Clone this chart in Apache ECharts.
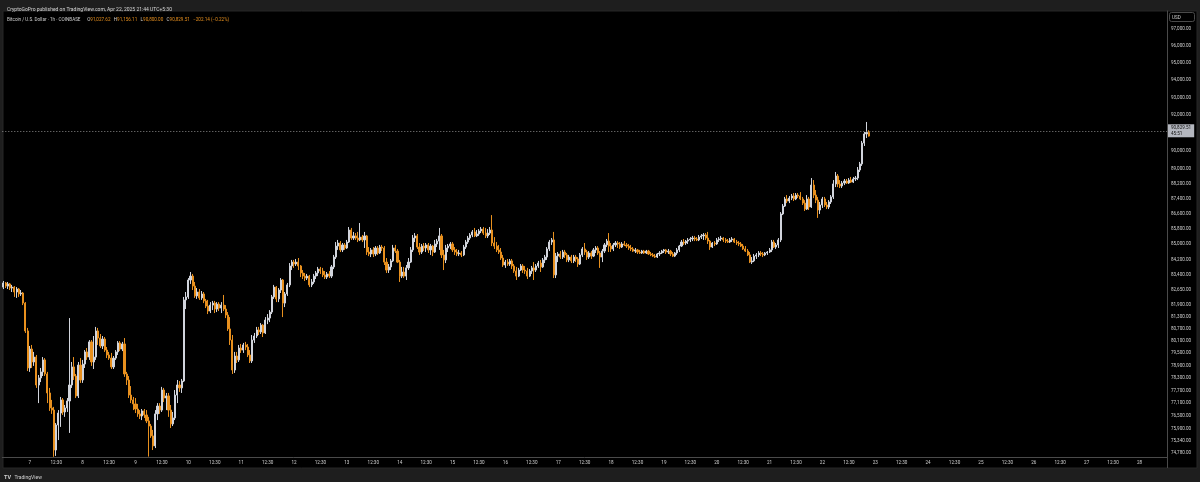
<!DOCTYPE html>
<html>
<head>
<meta charset="utf-8">
<script src="https://cdn.jsdelivr.net/npm/echarts@6/dist/echarts.min.js"></script>
<style>
html,body{margin:0;padding:0;background:#1e1e1e;}
#chart{width:1200px;height:482px;}
</style>
</head>
<body>
<div id="chart"></div>
<script>
// BTC/USD 1h candles, Apr 6 12:30 -> Apr 22 21:30 (UTC+5:30)
const opens = [
82790,83000,82840,82950,82740,82790,82540,82690,82440,82490,81980,80590,78780,79700,79070,79310,77960,78300,78590,79170,
78490,77580,76870,76770,74910,76070,76630,77250,76680,76870,77200,77960,78830,78390,77440,78920,78200,78970,79560,79310,
80050,79070,79310,80590,80240,79850,80190,79650,79410,79260,78830,79260,79560,80000,79700,79950,78490,78200,77480,77250,
77060,76820,76590,76490,76730,76540,76260,76020,75560,75100,76590,76960,76770,77720,77340,77440,76770,76120,76400,77480,
77960,77820,78150,82140,82290,83150,83350,82840,82340,82540,82240,82440,82090,81830,81580,81880,81980,81680,81930,81730,
81880,81680,81380,80690,80140,78680,79360,79170,79750,79650,79900,79800,79410,79120,80140,80340,80640,80540,80880,80490,
81130,81230,81530,82290,82790,82190,82640,83150,81980,82440,82900,83870,84070,83970,84070,83870,83510,83350,83250,83350,
82900,83050,83350,83510,83710,83610,83410,83300,83460,83350,83820,84330,84900,85060,84700,84960,84800,85110,85740,85320,
85430,85320,85220,85370,85220,85430,84590,84490,84700,84490,84800,84540,84850,84800,84070,83660,83820,84130,84800,84640,
84070,83350,83560,83350,83770,84070,84700,85320,85430,84850,84590,84900,84800,84960,84700,84900,84590,85010,85160,85430,
84440,84180,84800,84900,85010,84700,84590,84490,84540,84440,84850,85110,85320,85480,85640,85430,85530,85690,85790,85580,
85430,85580,85740,85060,84900,84700,84590,84280,83920,84070,83970,84130,83870,83610,83350,83660,83870,83660,83610,83350,
83610,83770,83660,83870,84020,83820,84180,84330,84750,85110,85220,83410,84380,84490,84330,84590,84440,84180,84330,84130,
84330,84230,83970,84440,84750,84590,84330,84540,84380,84700,84800,84540,84330,84640,84960,85160,84900,84750,84960,85060,
85010,84850,85010,84960,84900,84800,84750,84640,84700,84590,84540,84640,84540,84640,84490,84440,84380,84330,84490,84540,
84640,84700,84590,84640,84490,84380,84540,84700,84900,85110,85060,85160,85220,85270,85320,85270,85220,85370,85430,85480,
85320,85160,84850,85060,85010,85220,85270,85320,85220,85160,85110,85220,85270,85110,85060,85010,84900,84750,84640,84440,
84070,84130,84380,84440,84540,84490,84440,84540,84590,84700,85110,84850,84960,85220,86590,87010,87390,87280,87440,87550,
87390,87600,87550,87390,87170,86850,87390,86960,88140,87600,87330,86800,87070,87390,87070,86960,87230,87500,88200,88630,
88200,88090,88250,88360,88250,88410,88300,88470,88520,88960,89290,90440,90950,91027.62
];
const highs = [
83100,83050,83050,83000,82900,82840,82790,82740,82640,82540,82030,80740,79850,79900,79560,79410,78440,78780,79310,79260,
78590,77820,77250,76920,76160,76770,77390,77340,77010,77340,81230,79070,79310,78490,79070,79260,79170,79650,79750,80140,
80140,80340,80790,80740,80440,80340,80290,79800,79560,79510,79360,79650,80090,80090,80050,80240,78590,78390,77910,77390,
77340,77060,76770,76820,76820,76770,76450,76120,75840,76770,77100,77100,77870,77820,77580,77580,77010,76680,77720,78200,
78150,78250,82290,82540,83250,83560,83460,83050,82740,82690,82590,82540,82190,82140,82030,82090,82090,82030,82030,82030,
82390,81880,81530,81280,80390,79560,79560,79900,79950,80000,80050,79950,79650,80390,80490,80790,80790,80980,80930,81280,
81430,81630,82390,82900,82840,82740,83250,83200,82540,83000,84020,84180,84180,84230,84280,83920,83660,83510,83460,83410,
83200,83460,83610,83820,83820,83770,83610,83560,83610,83920,84440,85110,85220,85160,85060,85060,85220,85900,85850,85640,
85580,85640,86110,85480,85640,85480,84850,84800,84850,84900,84900,84960,84960,84900,84280,83970,84230,84960,84960,84750,
84180,83820,83820,83920,84280,84850,85480,85580,85530,85060,85010,85060,85060,85060,85010,84960,85220,85270,85850,85530,
84700,84960,85010,85110,85110,84850,84750,84700,84640,84960,85220,85430,85580,85740,85850,85740,85790,85900,85900,85850,
85790,85900,86530,85370,85110,84960,84800,84440,84180,84230,84230,84230,83970,83820,83770,83970,83970,83870,83770,83710,
83870,84070,83970,84130,84180,84280,84440,84850,85220,85320,85640,84540,84590,84640,84700,84700,84540,84440,84440,84440,
84440,84330,84540,84850,85060,84700,84640,84640,84800,84900,84900,84640,84750,85060,85270,85580,85060,85060,85160,85160,
85110,85110,85160,85060,85010,84960,84850,84800,84750,84700,84700,84700,84700,84700,84590,84540,84490,84540,84640,84700,
84750,84750,84750,84700,84590,84590,84800,84960,85220,85270,85220,85320,85370,85430,85430,85370,85480,85530,85580,85580,
85640,85220,85110,85160,85320,85370,85430,85370,85320,85270,85320,85370,85320,85220,85160,85110,85010,84900,84750,84590,
84330,84490,84540,84640,84640,84590,84590,84640,84800,85220,85220,85060,85320,86690,87120,87500,87600,87550,87660,87710,
87710,87710,87760,87500,87330,87600,87500,88520,88410,87870,87500,87230,87500,87500,87230,87330,87600,88410,88850,88740,
88410,88360,88470,88470,88520,88580,88580,88630,89120,89400,90560,91060,91620,91156.11
];
const lows = [
82690,82740,82690,82640,82540,82290,82240,82290,82340,81880,80490,78630,78590,78780,78880,77820,77100,78100,78390,78390,
77100,76730,76590,74600,74640,75370,75980,76540,76450,76680,75700,77820,78200,77340,77340,78060,78060,78780,79170,79170,
78880,78730,79170,79900,79750,79700,79560,79260,79170,78730,78730,79170,79410,79600,79600,78350,77960,77340,77100,76770,
76630,76450,76350,76300,76400,76160,74610,75470,74910,75000,76300,76590,76680,77150,76770,76450,75930,76020,76300,77100,
77630,77580,78100,81680,82190,82950,82640,82240,82190,82140,82140,81980,81730,81430,81480,81630,81480,81530,81580,81480,
81580,81230,80590,79900,78490,78540,79020,79070,79510,79510,79650,79310,79020,79020,80000,80240,80390,80440,80290,80440,
80930,81030,81430,82190,82030,82030,82490,81280,81780,82340,82790,83660,83770,83870,83660,83300,83200,83100,83150,82790,
82790,82950,83200,83350,83460,83300,83200,83200,83250,83250,83710,84230,84700,84590,84590,84700,84750,85060,85220,85220,
85220,85110,85160,85110,84800,84440,84380,84330,84330,84380,84440,84490,84640,83920,83510,83510,83660,84070,84540,84020,
83050,83250,83250,83150,83660,84020,84590,85110,84750,84440,84490,84640,84590,84540,84440,84380,84540,84850,84700,84280,
83660,84020,84590,84750,84590,84440,84380,84380,84330,84380,84750,85010,85220,85370,85370,85370,85430,85580,85480,85320,
85320,85480,84900,84750,84590,84490,84180,83820,83770,83870,83870,83710,83510,83150,83300,83610,83510,83460,83200,83300,
83460,83150,83560,83770,83560,83770,84020,84180,84640,84960,83250,83250,84070,84230,84230,84280,84070,84070,84020,84020,
84070,83820,83920,84330,84440,84180,84230,84230,84330,84540,84440,83770,84070,84540,84850,84590,84590,84640,84850,84800,
84750,84800,84900,84800,84700,84640,84590,84540,84490,84490,84490,84490,84490,84440,84380,84330,84280,84280,84380,84490,
84540,84490,84490,84380,84330,84330,84440,84590,84850,84960,84960,85010,85110,85160,85160,85160,85160,85270,85220,85220,
85010,84700,84800,84900,84960,85110,85160,85110,85060,85060,85060,85110,85060,84960,84900,84850,84700,84590,84380,84020,
83970,84070,84230,84330,84380,84330,84380,84440,84540,84590,84800,84750,84800,85110,86530,86960,87170,87170,87330,87280,
87330,87440,87330,87070,86750,86800,86800,86910,87440,87170,86380,86590,86910,86960,86850,86850,87120,87390,88030,88030,
87980,87980,88140,88200,88200,88250,88250,88360,88410,88850,89180,90280,90720,90800
];
const closes = [
83000,82840,82950,82740,82790,82540,82690,82440,82490,81980,80590,78780,79700,79070,79310,77960,78300,78590,79170,78490,
77580,76870,76770,74910,76070,76630,77250,76680,76870,77200,77960,78830,78390,77440,78920,78200,78970,79560,79310,80050,
79070,79310,80590,80240,79850,80190,79650,79410,79260,78830,79260,79560,80000,79700,79950,78490,78200,77480,77250,77060,
76820,76590,76490,76730,76540,76260,76020,75560,75100,76590,76960,76770,77720,77340,77440,76770,76120,76400,77480,77960,
77820,78150,82140,82290,83150,83350,82840,82340,82540,82240,82440,82090,81830,81580,81880,81980,81680,81930,81730,81880,
81680,81380,80690,80140,78680,79360,79170,79750,79650,79900,79800,79410,79120,80140,80340,80640,80540,80880,80490,81130,
81230,81530,82290,82790,82190,82640,83150,81980,82440,82900,83870,84070,83970,84070,83870,83510,83350,83250,83350,82900,
83050,83350,83510,83710,83610,83410,83300,83460,83350,83820,84330,84900,85060,84700,84960,84800,85110,85740,85320,85430,
85320,85220,85370,85220,85430,84590,84490,84700,84490,84800,84540,84850,84800,84070,83660,83820,84130,84800,84640,84070,
83350,83560,83350,83770,84070,84700,85320,85430,84850,84590,84900,84800,84960,84700,84900,84590,85010,85160,85430,84440,
84180,84800,84900,85010,84700,84590,84490,84540,84440,84850,85110,85320,85480,85640,85430,85530,85690,85790,85580,85430,
85580,85740,85060,84900,84700,84590,84280,83920,84070,83970,84130,83870,83610,83350,83660,83870,83660,83610,83350,83610,
83770,83660,83870,84020,83820,84180,84330,84750,85110,85220,83410,84380,84490,84330,84590,84440,84180,84330,84130,84330,
84230,83970,84440,84750,84590,84330,84540,84380,84700,84800,84540,84330,84640,84960,85160,84900,84750,84960,85060,85010,
84850,85010,84960,84900,84800,84750,84640,84700,84590,84540,84640,84540,84640,84490,84440,84380,84330,84490,84540,84640,
84700,84590,84640,84490,84380,84540,84700,84900,85110,85060,85160,85220,85270,85320,85270,85220,85370,85430,85480,85320,
85160,84850,85060,85010,85220,85270,85320,85220,85160,85110,85220,85270,85110,85060,85010,84900,84750,84640,84440,84070,
84130,84380,84440,84540,84490,84440,84540,84590,84700,85110,84850,84960,85220,86590,87010,87390,87280,87440,87550,87390,
87600,87550,87390,87170,86850,87390,86960,88140,87600,87330,86800,87070,87390,87070,86960,87230,87500,88200,88630,88200,
88090,88250,88360,88250,88410,88300,88470,88520,88960,89290,90440,90950,91031.65,90829.51
];
// right price-scale tick labels (log scale)
const priceTicks = [97000,96000,95000,94000,93000,92000,91000,90000,89000,88200,87400,86600,85800,85000,84200,83400,
  82650,81900,81300,80700,80100,79500,78900,78300,77700,77100,76500,75900,75340,74780];
const viewMin = 74590, viewMax = 98078;
const lastClose = 90829.51;
const countdown = '45:51';
const titleText = 'CryptoGoPro published on TradingView.com, Apr 22, 2025 21:44 UTC+5:30';
const symbolText = 'Bitcoin / U.S. Dollar · 1h · COINBASE';
const ohlcText = {O:'91,027.62', H:'91,156.11', L:'90,800.00', C:'90,829.51', chg:'−202.14 (−0.22%)'};

// hourly category slots (wall-clock UTC+5:30), extending to Apr 28 12:30
const slotStart = Date.UTC(2025, 3, 6, 12, 30);
const slotCount = 529;
const categories = [];
for (let j = 0; j < slotCount; j++) {
  const d = new Date(slotStart + j * 3600000);
  categories.push(d.getUTCDate() + ' ' + String(d.getUTCHours()).padStart(2,'0') + ':' + String(d.getUTCMinutes()).padStart(2,'0'));
}
const candleData = opens.map((o, i) => [Math.log(o), Math.log(closes[i]), Math.log(lows[i]), Math.log(highs[i])]);

const UP = '#d1d4dc', DOWN = '#e8901e';
const FONT = 'Roboto, "Liberation Sans", sans-serif';
const fmtPrice = v => Math.round(Math.exp(v)).toLocaleString('en-US') + '.00';

const chart = echarts.init(document.getElementById('chart'), null, {renderer: 'canvas'});
chart.setOption({
  animation: false,
  backgroundColor: '#1e1e1e',
  textStyle: {fontFamily: FONT},
  title: {
    text: titleText, left: 2, top: 2,
    textStyle: {color: '#d6d6d6', fontSize: 5, fontWeight: 'normal', fontFamily: FONT}
  },
  graphic: [
    {type: 'rect', z: -100, silent: true, shape: {x: 3, y: 11, width: 1194, height: 457},
     style: {fill: '#000000', stroke: '#262626', lineWidth: 1}},
    {type: 'line', z: 10, shape: {x1: 1167.5, y1: 457, x2: 1167.5, y2: 468}, style: {stroke: '#4a4a4a', lineWidth: 1}},
    {type: 'text', z: 10, left: 7, top: 14,
     style: {
       text: '{t|' + symbolText + '}  {k|O}{v|' + ohlcText.O + '} {k|H}{v|' + ohlcText.H + '} {k|L}{v|' + ohlcText.L +
             '} {k|C}{v|' + ohlcText.C + '} {v|' + ohlcText.chg + '}',
       rich: {
         t: {fill: '#cfcfcf', fontSize: 4.6, fontFamily: FONT},
         k: {fill: '#cfcfcf', fontSize: 4.6, fontFamily: FONT},
         v: {fill: DOWN, fontSize: 4.6, fontFamily: FONT}
       }
     }},
    {type: 'rect', z: 10, shape: {x: 1169.5, y: 12.5, width: 25, height: 9, r: 2},
     style: {fill: '#000', stroke: '#4a4a4a', lineWidth: 1}},
    {type: 'text', z: 11, left: 1172, top: 15,
     style: {text: 'USD', fill: '#cfcfcf', fontSize: 4.6, fontFamily: FONT}},
    {type: 'text', z: 10, left: 4, top: 472,
     style: {
       text: '{b|TV} {n|TradingView}',
       rich: {
         b: {fill: '#d0d0d0', fontSize: 5.5, fontWeight: 'bold', fontFamily: FONT},
         n: {fill: '#d0d0d0', fontSize: 5, fontFamily: FONT}
       }
     }}
  ],
  grid: {left: 2.3, right: 33, top: 11, bottom: 25, containLabel: false},
  xAxis: {
    type: 'category',
    data: categories,
    boundaryGap: true,
    axisLine: {show: true, lineStyle: {color: '#4a4a4a', width: 1}},
    axisTick: {show: false},
    splitLine: {show: false},
    axisLabel: {
      color: '#cfcfcf', fontSize: 4.6, margin: 3, fontFamily: FONT,
      interval: (idx, val) => idx > 0 && idx < slotCount - 1 && (val.endsWith(' 00:30') || val.endsWith(' 12:30')),
      formatter: val => val.endsWith(' 00:30') ? val.split(' ')[0] : '12:30'
    }
  },
  yAxis: {
    type: 'value',
    position: 'right',
    scale: true,
    min: Math.log(viewMin),
    max: Math.log(viewMax),
    axisLine: {show: true, lineStyle: {color: '#4a4a4a', width: 1}},
    axisTick: {show: false},
    splitLine: {show: false},
    axisLabel: {
      color: '#cfcfcf', fontSize: 4.6, margin: 4, fontFamily: FONT,
      customValues: priceTicks.map(p => Math.log(p)),
      formatter: v => fmtPrice(v)
    }
  },
  series: [{
    type: 'candlestick',
    data: candleData,
    barWidth: 1.6,
    itemStyle: {color: UP, color0: DOWN, borderColor: UP, borderColor0: DOWN, borderWidth: 1},
    markLine: {
      silent: true,
      symbol: ['none', 'none'],
      lineStyle: {color: '#8a8a8a', type: [1, 2], width: 1},
      label: {
        show: true, position: 'end', distance: 1,
        formatter: lastClose.toLocaleString('en-US', {minimumFractionDigits: 2}) + '\n' + countdown,
        backgroundColor: '#b4b7bf', color: '#111', fontSize: 4.6, lineHeight: 5.5,
        padding: [1, 3, 1, 3], fontFamily: FONT
      },
      data: [{yAxis: Math.log(lastClose)}]
    }
  }]
});
</script>
</body>
</html>
